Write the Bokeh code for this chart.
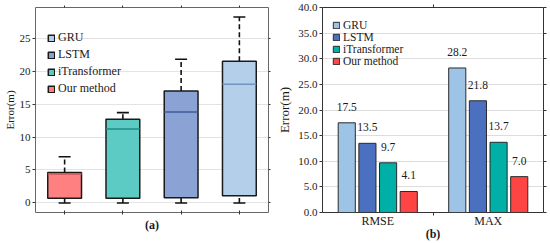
from bokeh.plotting import figure
from bokeh.models import (ColumnDataSource, FixedTicker, LinearAxis, Legend, LegendItem,
                          Range1d, CustomJSTickFormatter, PrintfTickFormatter)
from bokeh.layouts import row
from bokeh.transform import dodge
from bokeh.embed import file_html
from bokeh.resources import INLINE
from bokeh.core.properties import value

FONT = "Liberation Serif"
LEG_FONT = "'Liberation Serif', serif"

# ---------------- data: panel (a) box plot ----------------
box_methods = ["Our method", "iTransformer", "LSTM", "GRU"]
box_low = [0.0, 0.0, 0.0, 0.0]
box_q1 = [0.7, 0.7, 0.8, 1.1]
box_median = [4.4, 11.2, 13.8, 18.0]
box_q3 = [4.6, 12.7, 17.0, 21.5]
box_high = [7.0, 13.7, 21.8, 28.2]
box_ticks = [0, 5, 10, 15, 20, 25]
legend_order_a = ["GRU", "LSTM", "iTransformer", "Our method"]

# ---------------- data: panel (b) grouped bars ----------------
bar_metrics = ["RMSE", "MAX"]
bar_methods = ["GRU", "LSTM", "iTransformer", "Our method"]
gru_vals = [17.5, 28.2]
lstm_vals = [13.5, 21.8]
itrans_vals = [9.7, 13.7]
ours_vals = [4.1, 7.0]
bar_ticks = [0, 5, 10, 15, 20, 25, 30, 35, 40]

# ---------------- styles ----------------
box_fill = {"Our method": "#FF8080", "iTransformer": "#5CCBC3", "LSTM": "#8AA3D4", "GRU": "#B4CFE9"}
box_med = {"Our method": "#C95858", "iTransformer": "#1E8C86", "LSTM": "#3E5B9C", "GRU": "#7196BD"}
bar_fill = {"GRU": "#9DC3E6", "LSTM": "#4A70BF", "iTransformer": "#00B0A6", "Our method": "#FF4444"}
BOX_W = 0.58
BAR_W = 0.155
BAR_STEP = 0.187

blank = CustomJSTickFormatter(code="return ''")


def base_axis(ax, size):
    ax.major_label_text_font = FONT
    ax.major_label_text_font_size = size
    ax.major_label_text_color = "#1a1a1a"
    ax.axis_label_text_font = FONT
    ax.axis_label_text_font_style = "normal"
    ax.axis_label_text_color = "#1a1a1a"
    ax.axis_line_color = None
    ax.major_tick_line_color = "#333333"
    ax.minor_tick_line_color = None
    ax.major_tick_in = 0
    ax.major_tick_out = 3
    ax.major_label_standoff = 2


def make_legend(items, size, margin, padding, spacing, label_h, title_gap):
    return Legend(items=items, location="top_left",
                  label_text_font=LEG_FONT, label_text_font_size=size,
                  label_text_color="#1a1a1a", glyph_width=8, glyph_height=8,
                  label_height=label_h, label_standoff=3, spacing=spacing,
                  padding=padding, margin=margin,
                  title=" ", title_text_font_size="1px", title_standoff=title_gap,
                  background_fill_alpha=0, border_line_alpha=0)


# ================= panel (a) =================
xs = [i + 1 for i in range(len(box_methods))]
src_a = ColumnDataSource(dict(
    x=xs, low=box_low, q1=box_q1, med=box_median, q3=box_q3, high=box_high,
    mx0=[x - BOX_W / 2 for x in xs], mx1=[x + BOX_W / 2 for x in xs],
    fill=[box_fill[m] for m in box_methods], medc=[box_med[m] for m in box_methods],
))

p1 = figure(width=272, height=243, output_backend="svg", toolbar_location=None,
            x_range=Range1d(0.5, 4.5), y_range=Range1d(-1.45, 29.65),
            min_border_left=26, min_border_right=4, min_border_top=2, min_border_bottom=4)
p1.outline_line_color = "#666666"
p1.outline_line_width = 1
p1.xgrid.visible = False
p1.ygrid.grid_line_color = "#E3E3E3"
p1.ygrid.ticker = FixedTicker(ticks=box_ticks)

ya = p1.yaxis[0]
base_axis(ya, "11px")
ya.ticker = FixedTicker(ticks=box_ticks)
ya.axis_label = "Error(m)"
ya.axis_label_text_font_size = "11px"
ya.axis_label_standoff = 1

xa = p1.xaxis[0]
base_axis(xa, "1px")
xa.ticker = FixedTicker(ticks=xs)
xa.formatter = blank
xa.major_tick_in = 2
xa.major_tick_out = 2
xa.major_label_standoff = 5
xa.axis_label = "(a)"
xa.axis_label_text_font_style = "bold"
xa.axis_label_text_font_size = "12px"
xa.axis_label_standoff = 3

top_a = LinearAxis(ticker=FixedTicker(ticks=xs), formatter=blank)
base_axis(top_a, "1px")
top_a.major_tick_out = 2
top_a.major_label_standoff = 0
p1.add_layout(top_a, "above")
right_a = LinearAxis(ticker=FixedTicker(ticks=box_ticks), formatter=blank)
base_axis(right_a, "1px")
right_a.major_tick_out = 2
right_a.major_label_standoff = 0
p1.add_layout(right_a, "right")

p1.segment(x0="x", y0="q3", x1="x", y1="high", source=src_a,
           line_color="#111111", line_width=1.6, line_dash="5 3")
p1.segment(x0="x", y0="low", x1="x", y1="q1", source=src_a,
           line_color="#111111", line_width=1.6, line_dash="5 3")
p1.dash(x="x", y="high", size=12, source=src_a, line_color="#111111", line_width=1.6)
p1.dash(x="x", y="low", size=12, source=src_a, line_color="#111111", line_width=1.6)
box_r = p1.vbar(x="x", bottom="q1", top="q3", width=BOX_W, source=src_a,
                fill_color="fill", line_color="#1a1a1a", line_width=1.5)
p1.segment(x0="mx0", y0="med", x1="mx1", y1="med", source=src_a,
           line_color="medc", line_width=1.5)

leg_a = make_legend([LegendItem(label=m, renderers=[box_r], index=box_methods.index(m))
                     for m in legend_order_a], "12px", 6, 6, 2, 13, 10)
p1.add_layout(leg_a)

# ================= panel (b) =================
xb = [i + 1 for i in range(len(bar_metrics))]
p2 = figure(width=278, height=243, output_backend="svg", toolbar_location=None,
            x_range=Range1d(0.5, 2.5), y_range=Range1d(0, 40),
            min_border_left=50, min_border_right=7, min_border_top=7, min_border_bottom=4)
p2.outline_line_color = "#333333"
p2.outline_line_width = 1
p2.xgrid.visible = False
p2.ygrid.grid_line_color = "#DDDDDD"
p2.ygrid.ticker = FixedTicker(ticks=bar_ticks)

yb = p2.yaxis[0]
base_axis(yb, "11px")
yb.ticker = FixedTicker(ticks=bar_ticks)
yb.formatter = PrintfTickFormatter(format="%.1f")
yb.axis_label = "Error(m)"
yb.axis_label_text_font_size = "13px"
yb.axis_label_standoff = 3

xbx = p2.xaxis[0]
base_axis(xbx, "12px")
xbx.ticker = FixedTicker(ticks=xb, minor_ticks=[1.5])
xbx.major_label_overrides = {x: m for x, m in zip(xb, bar_metrics)}
xbx.major_tick_out = 0
xbx.minor_tick_line_color = "#333333"
xbx.minor_tick_in = 0
xbx.minor_tick_out = 3
xbx.major_label_standoff = -2
xbx.axis_label = "(b)"
xbx.axis_label_text_font_style = "bold"
xbx.axis_label_text_font_size = "12px"
xbx.axis_label_standoff = -4

top_b = LinearAxis(ticker=FixedTicker(ticks=[1.5]), formatter=blank)
base_axis(top_b, "1px")
top_b.major_label_standoff = 0
p2.add_layout(top_b, "above")
right_b = LinearAxis(ticker=FixedTicker(ticks=bar_ticks), formatter=blank)
base_axis(right_b, "1px")
right_b.major_label_standoff = 0
p2.add_layout(right_b, "right")

series_vals = {"GRU": gru_vals, "LSTM": lstm_vals, "iTransformer": itrans_vals, "Our method": ours_vals}
legend_items_b = []
for j, m in enumerate(bar_methods):
    vals = series_vals[m]
    src = ColumnDataSource(dict(x=xb, v=vals, lbl=[f"{v:.1f}" for v in vals]))
    off = (j - (len(bar_methods) - 1) / 2) * BAR_STEP
    r = p2.vbar(x=dodge("x", off), top="v", bottom=0, width=BAR_W, source=src,
                fill_color=bar_fill[m], line_color="#2a2a2a", line_width=1)
    p2.text(x=dodge("x", off), y="v", text="lbl", source=src, y_offset=-16,
            text_font=value(FONT), text_font_size="11.5px", text_color="#1a1a1a",
            text_align="center", text_baseline="middle")
    legend_items_b.append(LegendItem(label=m, renderers=[r]))

leg_b = make_legend(legend_items_b, "11.5px", 5, 5, 0, 12, 1)
p2.add_layout(leg_b)

layout = row(p1, p2)
open("out.html", "w").write(file_html(layout, INLINE))
